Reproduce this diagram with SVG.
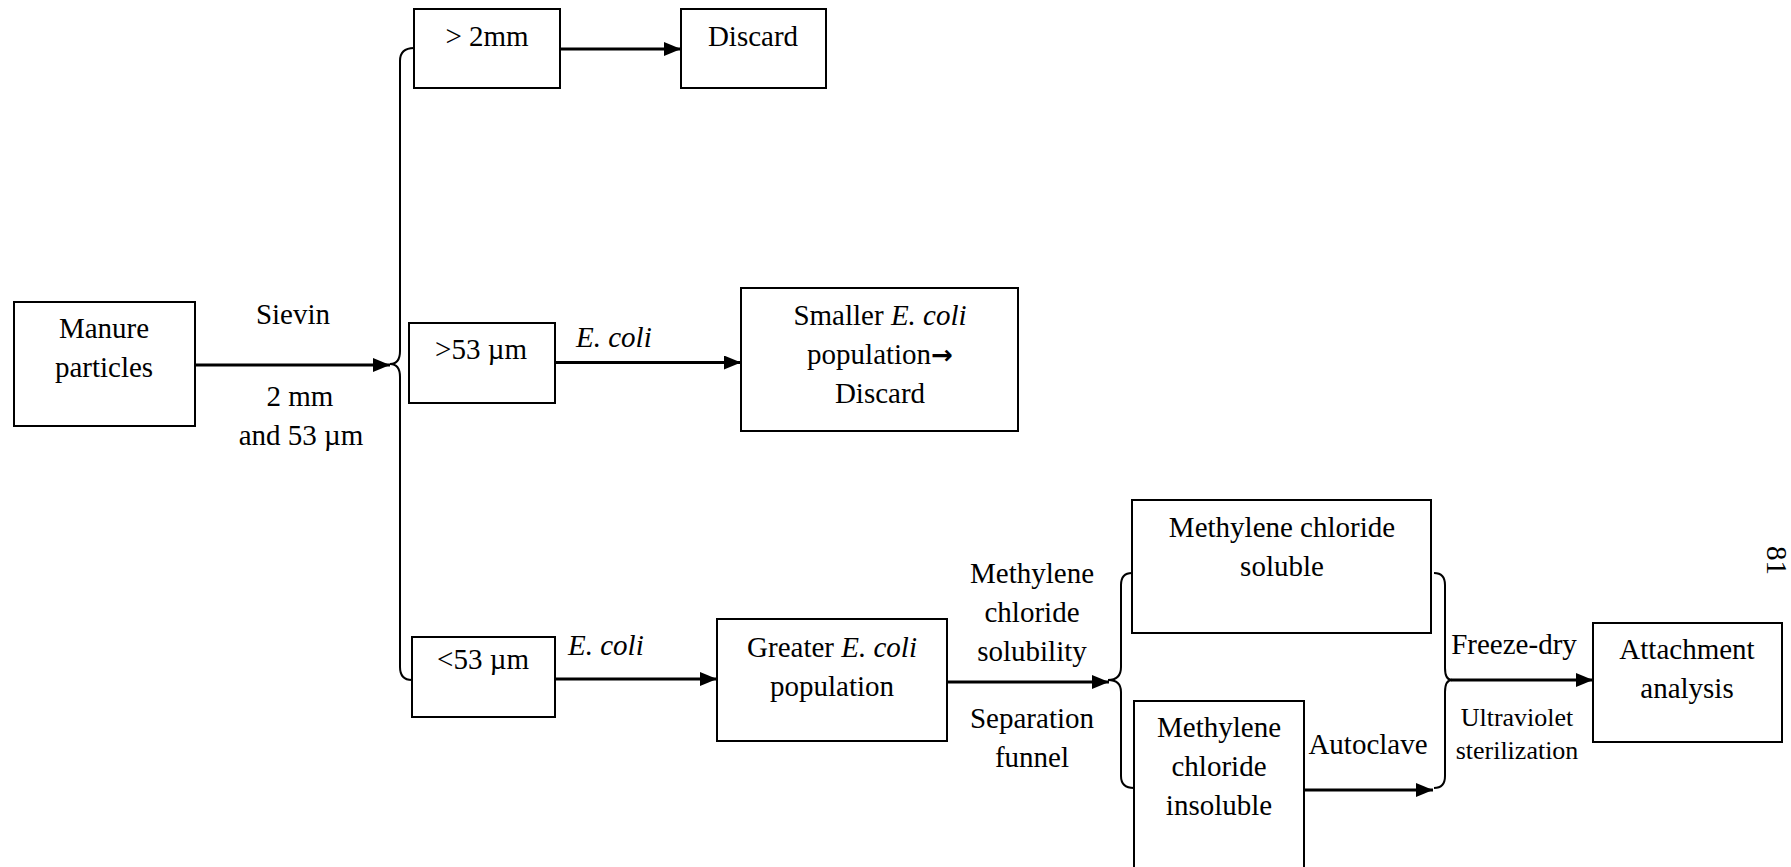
<svg xmlns="http://www.w3.org/2000/svg" width="1791" height="867" viewBox="0 0 1791 867">
<defs>
<style>
.box{fill:#fff;stroke:#000;stroke-width:2}
.t{font-family:"Liberation Serif","Times New Roman",serif;font-size:29px;fill:#000;text-anchor:middle}
.s{font-size:26px}
.l{text-anchor:start}
.i{font-style:italic}
.arr{fill:none;stroke:#000;stroke-width:3;marker-end:url(#ah)}
.br{fill:none;stroke:#000;stroke-width:2}
</style>
<marker id="ah" markerUnits="userSpaceOnUse" markerWidth="18" markerHeight="15" refX="17" refY="7" orient="auto">
<path d="M0,0 L17,7 L0,14 z" fill="#000"/>
</marker>
</defs>
<rect width="1791" height="867" fill="#fff"/>

<g id="connectors">
<path class="arr" d="M196,365 L390,365"/>
<path class="arr" d="M560,49 L681,49"/>
<path class="arr" d="M555,362.5 L741,362.5"/>
<path class="arr" d="M555,679 L717,679"/>
<path class="arr" d="M947,682 L1109,682"/>
<path class="arr" d="M1305,790 L1433,790"/>
<path class="arr" d="M1451,680 L1593,680"/>
<path class="br" d="M414,48 Q400,48 400,61 L400,351 Q400,364 390,364 Q400,364 400,377 L400,667 Q400,680 412,680"/>
<path class="br" d="M1132,573 Q1121,573 1121,585 L1121,667 Q1121,680 1108,680 Q1121,680 1121,692 L1121,776 Q1121,788 1134,788"/>
<path class="br" d="M1434,573 Q1445,573 1445,585 L1445,668 Q1445,680 1452,680 Q1445,680 1445,692 L1445,776 Q1445,788 1434,788"/>
</g>

<g id="label-sieving">
<text class="t" x="293" y="324">Sievin</text>
<text class="t" x="300" y="406">2 mm</text>
<text class="t" x="301" y="445">and 53 µm</text>
</g>
<g id="label-ecoli-1"><text class="t l i" x="576" y="347">E. coli</text></g>
<g id="label-ecoli-2"><text class="t l i" x="568" y="655">E. coli</text></g>
<g id="label-solubility">
<text class="t" x="1032" y="583">Methylene</text>
<text class="t" x="1032" y="622">chloride</text>
<text class="t" x="1032" y="661">solubility</text>
</g>
<g id="label-funnel">
<text class="t" x="1032" y="728">Separation</text>
<text class="t" x="1032" y="767">funnel</text>
</g>
<g id="label-autoclave"><text class="t" x="1368" y="754">Autoclave</text></g>
<g id="label-freeze"><text class="t" x="1514" y="654">Freeze-dry</text></g>
<g id="label-uv">
<text class="t s" x="1517" y="726">Ultraviolet</text>
<text class="t s" x="1517" y="759">sterilization</text>
</g>

<g id="manure">
<rect class="box" x="14" y="302" width="181" height="124"/>
<text class="t" x="104" y="338">Manure</text>
<text class="t" x="104" y="377">particles</text>
</g>
<g id="gt2mm">
<rect class="box" x="414" y="9" width="146" height="79"/>
<text class="t" x="487" y="46">&gt; 2mm</text>
</g>
<g id="discard">
<rect class="box" x="681" y="9" width="145" height="79"/>
<text class="t" x="753" y="46">Discard</text>
</g>
<g id="gt53">
<rect class="box" x="409" y="323" width="146" height="80"/>
<text class="t" x="481" y="359">&gt;53 µm</text>
</g>
<g id="smaller">
<rect class="box" x="741" y="288" width="277" height="143"/>
<text class="t" x="880" y="325">Smaller <tspan class="i">E. coli</tspan></text>
<text class="t" x="880" y="364">population<tspan font-family="DejaVu Sans, sans-serif" font-size="26" font-weight="bold">→</tspan></text>
<text class="t" x="880" y="403">Discard</text>
</g>
<g id="lt53">
<rect class="box" x="412" y="637" width="143" height="80"/>
<text class="t" x="483" y="669">&lt;53 µm</text>
</g>
<g id="greater">
<rect class="box" x="717" y="619" width="230" height="122"/>
<text class="t" x="832" y="657">Greater <tspan class="i">E. coli</tspan></text>
<text class="t" x="832" y="696">population</text>
</g>
<g id="soluble">
<rect class="box" x="1132" y="500" width="299" height="133"/>
<text class="t" x="1282" y="537">Methylene chloride</text>
<text class="t" x="1282" y="576">soluble</text>
</g>
<g id="insoluble">
<rect class="box" x="1134" y="701" width="170" height="190"/>
<text class="t" x="1219" y="737">Methylene</text>
<text class="t" x="1219" y="776">chloride</text>
<text class="t" x="1219" y="815">insoluble</text>
</g>
<g id="attachment">
<rect class="box" x="1593" y="623" width="189" height="119"/>
<text class="t" x="1687" y="659">Attachment</text>
<text class="t" x="1687" y="698">analysis</text>
</g>
<g id="page-number">
<text class="t l" font-size="23" transform="translate(1767,546) rotate(90)">81</text>
</g>
</svg>
